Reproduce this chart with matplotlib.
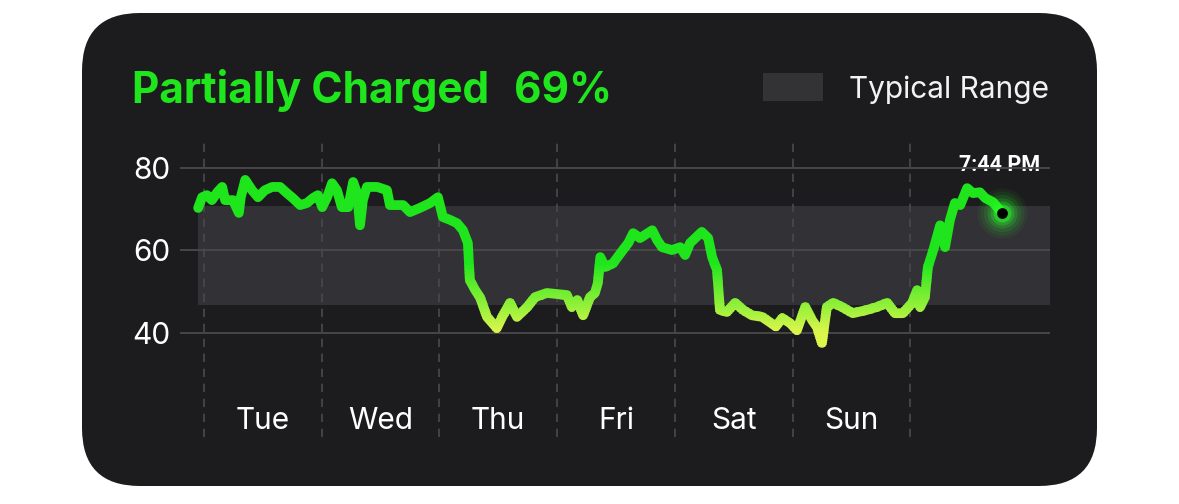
import numpy as np
import matplotlib
matplotlib.use("Agg")
import matplotlib.pyplot as plt
from matplotlib.patches import FancyBboxPatch, Rectangle
from matplotlib.colors import LinearSegmentedColormap, Normalize

# ---------------- data ----------------
# hours since Tuesday 00:00
hours = [-1.2, -0.4, 0.6, 1.6, 2.7, 3.7, 4.3, 5.9, 7.1, 7.5, 8.4, 9.8, 11.0, 12.4,
         13.9, 15.5, 16.9, 18.1, 19.6, 21.0, 22.2, 23.2, 24.1, 25.1, 26.1, 27.1,
         28.1, 29.4, 30.4, 31.2, 31.8, 32.4, 33.2, 35.3, 37.3, 37.9, 40.6, 42.0,
         44.0, 46.1, 47.7, 48.7, 50.2, 51.6, 52.8, 53.8, 54.2, 55.3, 56.3, 57.7,
         59.7, 60.8, 62.4, 63.8, 65.9, 67.5, 69.9, 74.0, 75.0, 76.1, 77.3, 78.7,
         79.7, 80.3, 80.8, 81.8, 83.4, 85.4, 86.5, 87.5, 88.9, 91.4, 92.4, 93.4,
         95.4, 97.1, 98.1, 99.1, 101.5, 102.8, 103.6, 104.6, 105.2, 106.6, 108.3,
         109.9, 111.7, 113.8, 115.4, 116.6, 117.9, 119.5, 120.9, 122.6, 124.0,
         125.0, 126.0, 127.0, 128.3, 130.1, 132.3, 135.2, 137.2, 139.3, 140.9,
         142.5, 144.4, 145.4, 146.0, 147.0, 147.6, 148.7, 150.1, 151.1, 152.1,
         153.1, 154.2, 155.6, 156.8, 158.2, 159.3, 160.9, 162.7]
charge = [70.2, 72.8, 73.3, 72.1, 74.0, 75.3, 72.1, 72.1, 69.0, 72.8, 77.0, 74.5,
          72.8, 74.5, 75.3, 75.3, 73.8, 72.6, 70.9, 71.4, 72.6, 73.3, 70.4, 72.8,
          76.2, 74.5, 70.4, 70.4, 76.5, 73.8, 66.0, 72.1, 75.3, 75.3, 74.5, 70.9,
          70.9, 69.2, 70.2, 71.4, 72.8, 68.0, 67.3, 66.5, 64.8, 61.7, 52.7, 50.3,
          48.5, 43.8, 41.1, 43.8, 47.2, 43.8, 46.2, 48.6, 49.6, 49.1, 46.2, 47.9,
          44.2, 48.6, 49.6, 52.0, 58.3, 55.9, 56.8, 60.0, 61.7, 64.1, 62.9, 64.8,
          62.4, 60.7, 60.0, 60.7, 58.8, 61.7, 64.4, 62.9, 58.3, 55.2, 45.5, 45.0,
          47.2, 45.5, 44.2, 43.8, 42.5, 41.5, 43.5, 42.3, 40.6, 46.2, 43.0, 41.3,
          37.5, 46.2, 47.2, 46.2, 44.7, 45.5, 46.2, 47.2, 44.7, 44.7, 47.2, 50.3,
          46.2, 48.6, 55.9, 60.0, 66.0, 60.7, 67.3, 71.4, 70.9, 75.0, 73.8, 74.0,
          72.6, 71.6, 69.0]

day_labels = ["Tue", "Wed", "Thu", "Fri", "Sat", "Sun"]
day_boundaries = [0, 24, 48, 72, 96, 120, 144]
y_ticks = [40, 60, 80]
typical_low, typical_high = 46.7, 70.7
title_text = "Partially Charged"
current_text = "69%"
legend_label = "Typical Range"
end_label = "7:44 PM"

# ---------------- styles ----------------
GREEN = "#1fe61c"
YELLOW = "#dcf64c"
CARD = "#1c1c1e"
BAND = "#323236"
GRID = "#4a4a4d"
SANS = ["Inter", "DejaVu Sans"]

W, H = 1179, 504
fig = plt.figure(figsize=(W / 100, H / 100), dpi=100, facecolor="white")

# background / card layer in pixel coordinates
bg = fig.add_axes([0, 0, 1, 1])
bg.set_xlim(0, W)
bg.set_ylim(H, 0)
bg.axis("off")
bg.add_patch(FancyBboxPatch((82, 13), 1015, 473,
                            boxstyle="round,pad=0,rounding_size=58",
                            fc=CARD, ec="none"))

# main chart axes
ax_l, ax_r, ax_t, ax_b = 180, 1050, 137, 437
ax = fig.add_axes([ax_l / W, (H - ax_b) / H, (ax_r - ax_l) / W, (ax_b - ax_t) / H])
ax.set_facecolor("none")
for s in ax.spines.values():
    s.set_visible(False)
xmin, xmax = -4.9, 172.5
ymin, ymax = 14.7, 87.4
ax.set_xlim(xmin, xmax)
ax.set_ylim(ymin, ymax)

# typical range band
ax.fill_between([hours[0], xmax], typical_low, typical_high, color=BAND, lw=0, zorder=0)

# grid lines
for v in y_ticks:
    ax.axhline(v, color=GRID, lw=1.3, zorder=1)
for b in day_boundaries:
    ax.axvline(b, color=GRID, lw=1.2, ls=(0, (5, 4)), zorder=1)

# ticks
ax.set_yticks(y_ticks)
ax.set_yticklabels([str(v) for v in y_ticks])
ax.tick_params(axis="y", length=0, pad=7, labelsize=21.5, labelcolor="white")
for lab in ax.get_yticklabels():
    lab.set_family(SANS)
ax.set_xticks([])

# day labels
for i, d in enumerate(day_labels):
    ax.text(day_boundaries[i] + 12, 18.6, d, ha="center", va="center",
            fontsize=21.5, color="white", family=SANS)

# gradient line (colour by height) using clipped copies
cmap = LinearSegmentedColormap.from_list("batt", [YELLOW, GREEN])
norm = Normalize(vmin=40, vmax=57)
LW = 7
step = 0.5
levels = np.arange(30, 60, step)
for lv in levels:
    top = lv + step + 0.15
    col = cmap(norm(lv + step / 2))
    ln, = ax.plot(hours, charge, color=col, lw=LW, solid_capstyle="round",
                  solid_joinstyle="round", zorder=3)
    ln.set_clip_path(Rectangle((xmin, lv), xmax - xmin, top - lv, transform=ax.transData))
ln, = ax.plot(hours, charge, color=GREEN, lw=LW, solid_capstyle="round",
              solid_joinstyle="round", zorder=3)
ln.set_clip_path(Rectangle((xmin, 60), xmax - xmin, 100, transform=ax.transData))

# end point glow + dot
ex, ey = hours[-1], charge[-1]
for s, a in [(1300, 0.05), (1000, 0.07), (720, 0.10), (480, 0.16), (300, 0.25), (170, 0.45)]:
    ax.scatter([ex], [ey], s=s, color="#2aff2a", alpha=a, lw=0, zorder=4)
ax.scatter([ex], [ey], s=60, color="black", lw=0, zorder=5)

# titles / legend
bg.text(132, 103, title_text, fontsize=30.5, fontweight="bold", color=GREEN,
        family=SANS, va="baseline", ha="left")
bg.text(514, 103, current_text, fontsize=30.5, fontweight="bold", color=GREEN,
        family=SANS, va="baseline", ha="left")
bg.add_patch(Rectangle((763, 73), 60, 28, fc="#333336", ec="none"))
bg.text(849, 98, legend_label, fontsize=21.5, color="#f2f2f2", family=SANS,
        va="baseline", ha="left")
bg.text(1040, 171, end_label, fontsize=15.5, fontweight="bold", color="white",
        family=["Roboto", "DejaVu Sans"], va="baseline", ha="right")

fig.savefig("out.png", dpi=100, facecolor="white")
